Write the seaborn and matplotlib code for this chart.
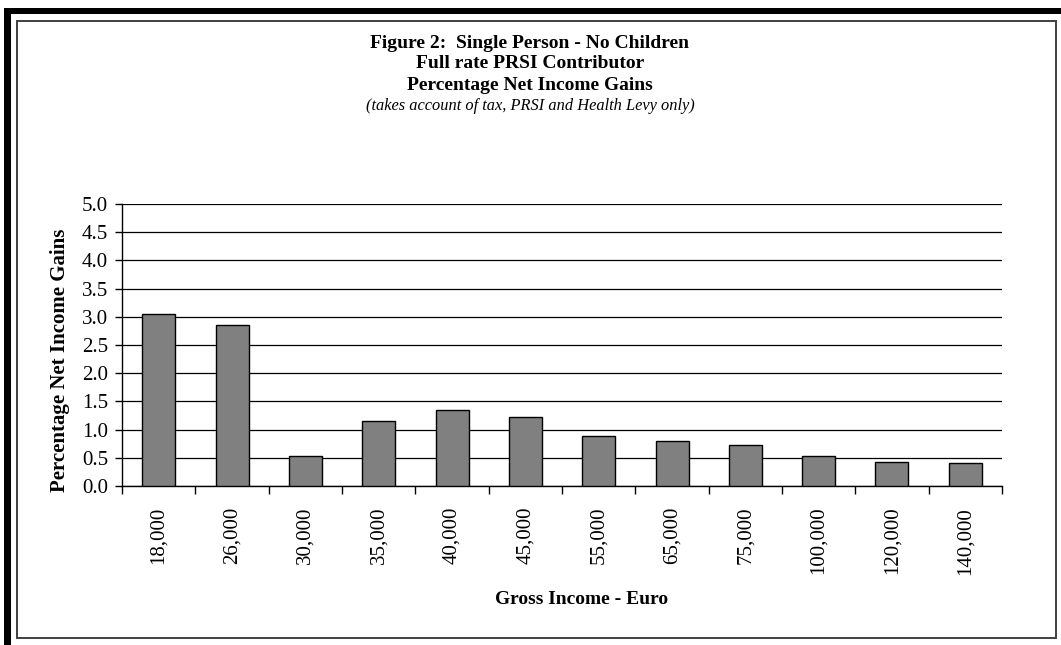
import matplotlib
matplotlib.use("Agg")
import matplotlib.pyplot as plt
from matplotlib.patches import Rectangle
from matplotlib.ticker import MultipleLocator, FixedLocator
import pandas as pd
import seaborn as sns

# Gross income bands (euro) and percentage net income gains
incomes = ["18,000", "26,000", "30,000", "35,000", "40,000", "45,000",
           "55,000", "65,000", "75,000", "100,000", "120,000", "140,000"]
gains = [3.05, 2.85, 0.54, 1.16, 1.34, 1.23, 0.89, 0.79, 0.72, 0.54, 0.43, 0.40]

title_lines = ["Figure 2:  Single Person - No Children",
               "Full rate PRSI Contributor",
               "Percentage Net Income Gains"]
subtitle = "(takes account of tax, PRSI and Health Levy only)"
x_label = "Gross Income - Euro"
y_label = "Percentage Net Income Gains"

df = pd.DataFrame({"income": incomes, "gain": gains})

sns.set_theme(style="white")
plt.rcParams["font.family"] = ["Liberation Serif", "DejaVu Serif"]

W, H = 1061, 645
fig = plt.figure(figsize=(W / 100, H / 100), dpi=100)
fig.patch.set_facecolor("white")


def fx(px):
    return px / W


def fy(py):
    return 1 - py / H


ax = fig.add_axes([fx(122), fy(486), fx(1002) - fx(122), fy(204) - fy(486)])

sns.barplot(data=df, x="income", y="gain", order=incomes, ax=ax,
            color="#808080", saturation=1, width=0.45,
            edgecolor="black", linewidth=1.0, zorder=3)

ax.set_ylim(0, 5.0)
ax.set_xlim(-0.5, len(incomes) - 0.5)
ax.yaxis.set_major_locator(MultipleLocator(0.5))
ax.set_yticks(ax.get_yticks())
ax.set_yticklabels([f"{v:.1f}" for v in ax.get_yticks()])
ax.set_ylim(0, 5.0)
ax.grid(axis="y", color="black", linewidth=0.9, zorder=0)
ax.grid(axis="x", visible=False)

for side in ["top", "right"]:
    ax.spines[side].set_visible(False)
for side in ["left", "bottom"]:
    ax.spines[side].set_visible(True)
    ax.spines[side].set_color("black")
    ax.spines[side].set_linewidth(1.0)

# category boundary ticks below the x axis
ax.xaxis.set_minor_locator(FixedLocator([i - 0.5 for i in range(len(incomes) + 1)]))
ax.tick_params(axis="x", which="minor", bottom=True, length=6, width=1.0, color="black")
ax.tick_params(axis="x", which="major", bottom=True, length=0, pad=15,
               labelsize=15, labelrotation=90, labelcolor="black")
ax.tick_params(axis="y", which="major", left=True, length=5, width=1.0,
               color="black", pad=5, labelsize=15, labelcolor="black")
for lbl in ax.get_xticklabels():
    lbl.set_va("top")

ax.set_xlabel("")
ax.set_ylabel("")

# titles and axis labels
for i, line in enumerate(title_lines):
    fig.text(fx(530), fy(43 + 21 * i), line, ha="center", va="center",
             fontsize=14, fontweight="bold", color="black")
fig.text(fx(530), fy(106), subtitle, ha="center", va="center",
         fontsize=11.8, fontstyle="italic", color="black")
fig.text(fx(582), fy(600), x_label, ha="center", va="center",
         fontsize=14, fontweight="bold", color="black")
fig.text(fx(60), fy(360), y_label, ha="center", va="center", rotation=90,
         fontsize=15, fontweight="bold", color="black")

# frame: thick black outer edge on left and top, thin inner box
fig.patches.append(Rectangle((fx(4), 0), fx(7), fy(8), transform=fig.transFigure,
                             facecolor="black", edgecolor="none", zorder=10))
fig.patches.append(Rectangle((fx(4), fy(14)), 1 - fx(4), fy(8) - fy(14),
                             transform=fig.transFigure, facecolor="black",
                             edgecolor="none", zorder=10))
fig.patches.append(Rectangle((fx(17), fy(638)), fx(1056) - fx(17), fy(21) - fy(638),
                             transform=fig.transFigure, facecolor="none",
                             edgecolor="#404040", linewidth=1.4, zorder=10))

fig.savefig("out.png", dpi=100)
